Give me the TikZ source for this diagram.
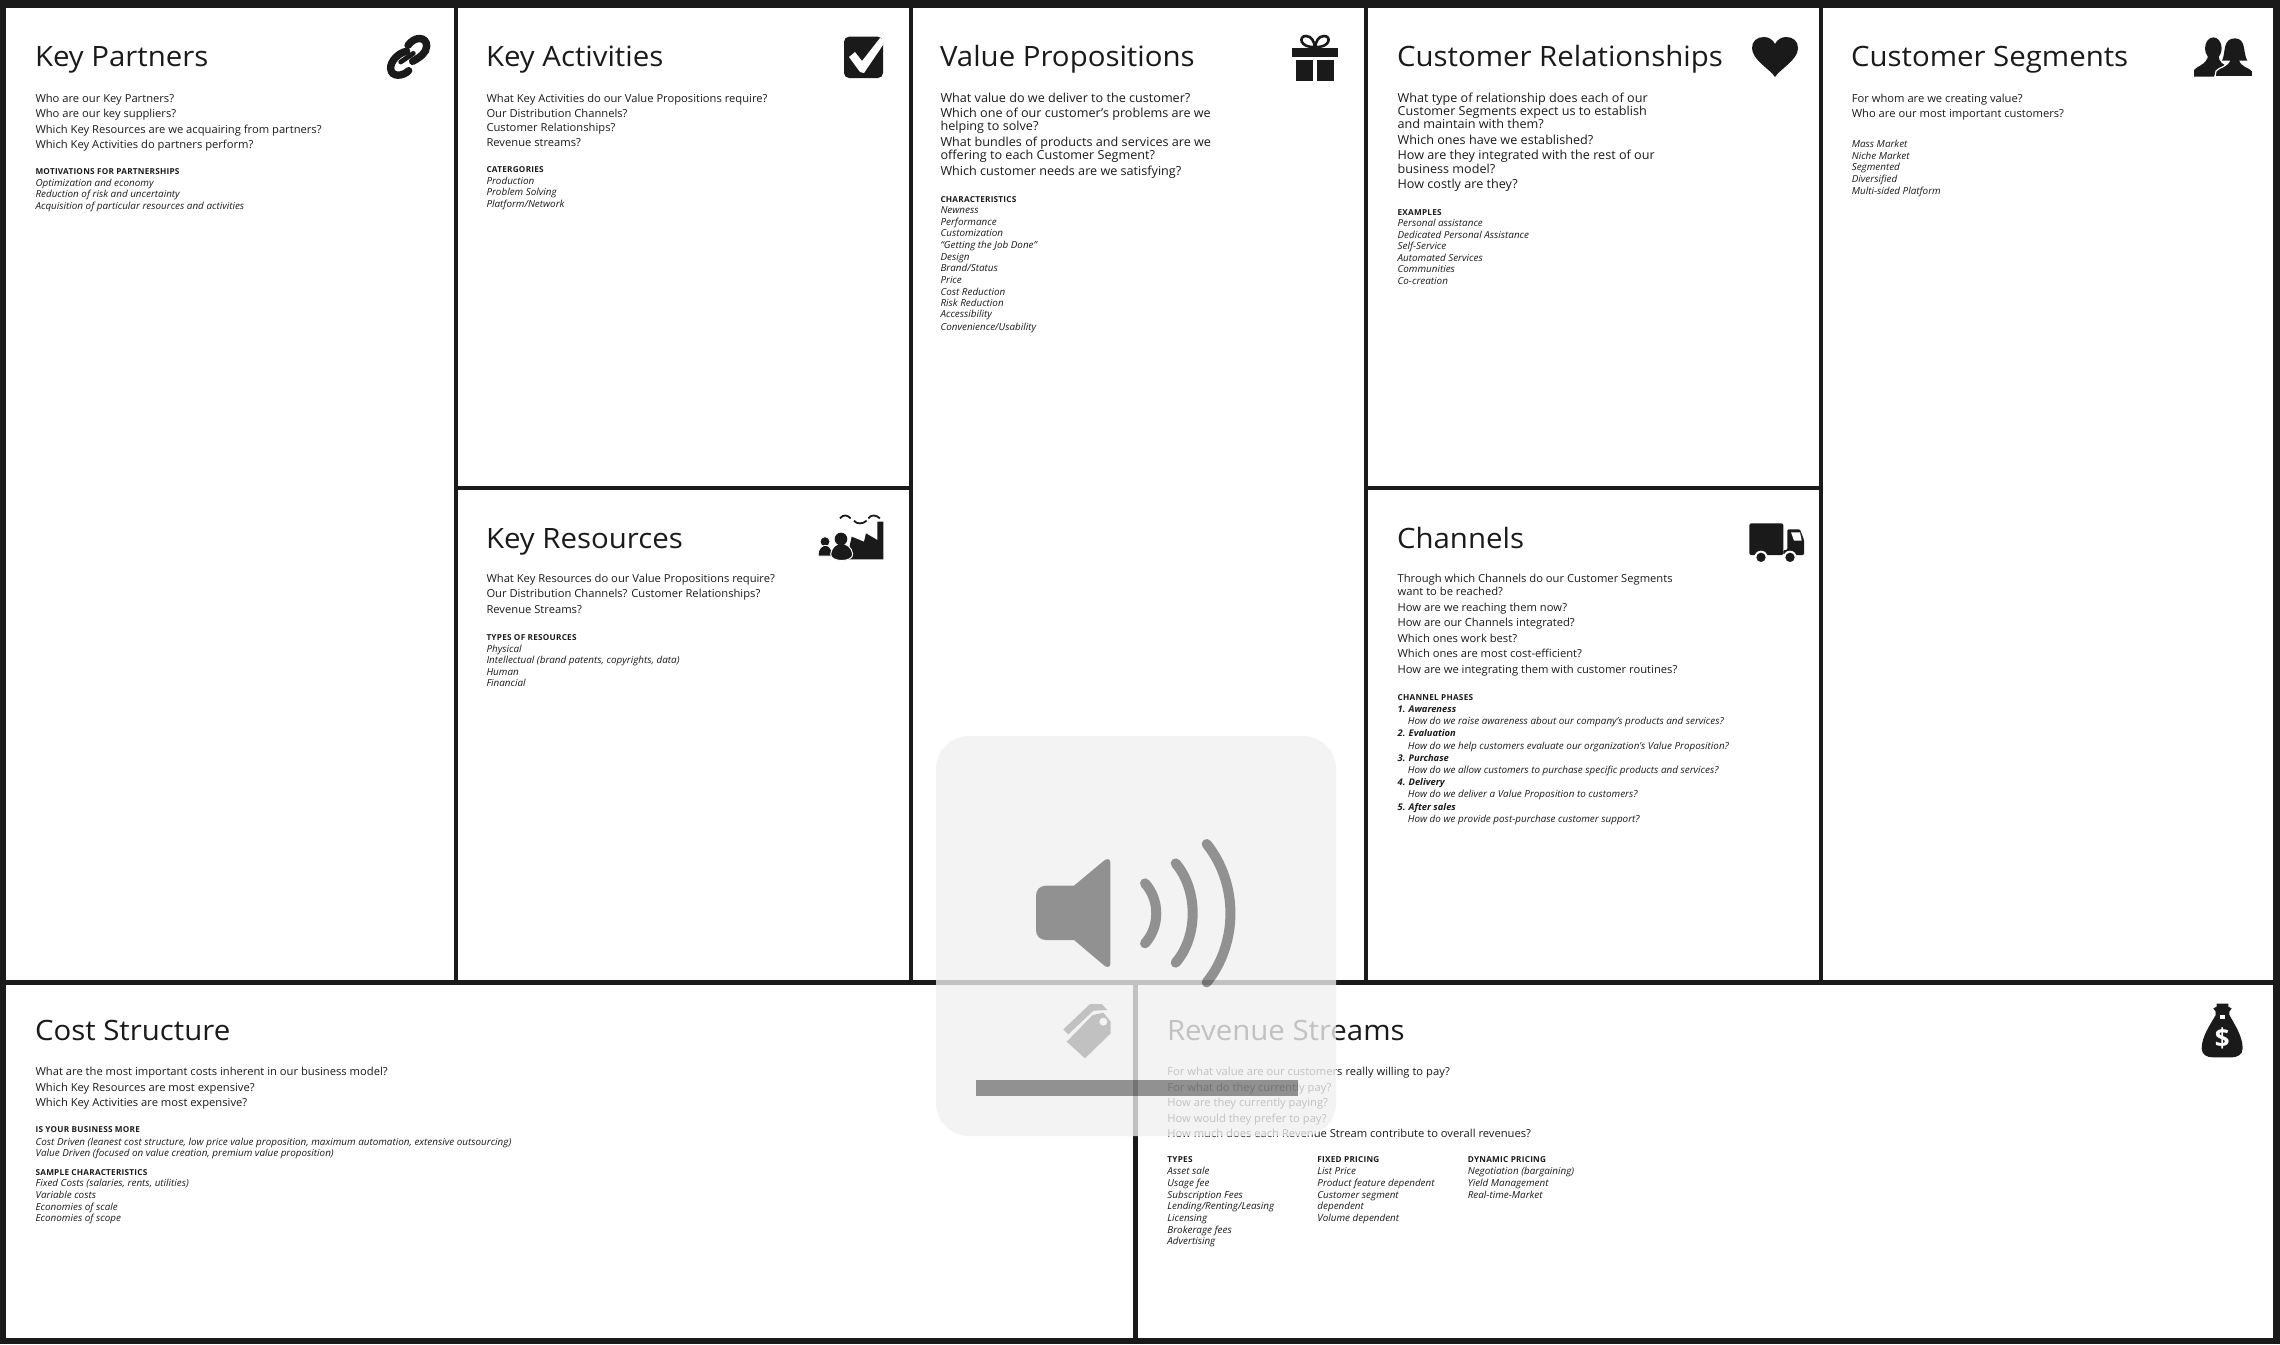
\documentclass[tikz,border=0pt]{standalone}
\usepackage{fontspec}
\setmainfont{Open Sans}
\newfontfamily\titlef[FakeStretch=1.05]{Open Sans}
\newfontfamily\bodyf[FakeStretch=1.018]{Open Sans}
\newfontfamily\headf[LetterSpace=3]{Open Sans}
\definecolor{ink}{HTML}{1A1A1A}
\newcommand\T[5]{\node[#2] (#1) at (#3,#4) {#5};}
\tikzset{
  lbl/.style={anchor=base west,inner sep=0pt,outer sep=0pt,text=ink},
  ttl/.style={lbl,font=\titlef\fontsize{14}{16}\selectfont},
  q/.style={lbl,font=\bodyf\fontsize{5.5}{6}\selectfont},
  qb/.style={lbl,font=\bodyf\fontsize{6.2}{7}\selectfont},
  hd/.style={lbl,font=\headf\bfseries\fontsize{4.1}{5}\selectfont},
  it/.style={lbl,font=\bodyf\itshape\fontsize{4.85}{5.5}\selectfont},
  itb/.style={lbl,font=\bodyf\bfseries\itshape\fontsize{4.6}{5.5}\selectfont},
  zm/.style 2 args={shift={(#1,#2)},x=0.16667pt,y=-0.16667pt},
}
\begin{document}
\begin{tikzpicture}[x=0.5pt,y=-0.5pt]
\useasboundingbox (0,0) rectangle (2280,1344);
\fill[ink] (0,0) rectangle (2280,1344);
% cells
\fill[white] (6,8) rectangle (453.7,980);
\fill[white] (458,8) rectangle (909,486);
\fill[white] (458,490) rectangle (909,980);
\fill[white] (913,8) rectangle (1363.6,980);
\fill[white] (1367.7,8) rectangle (1819,486);
\fill[white] (1367.7,490) rectangle (1819,980);
\fill[white] (1823,8) rectangle (2273,980);
\fill[white] (6,984.5) rectangle (1133,1338);
\fill[white] (1137.5,984.5) rectangle (2273,1338);
% Key Partners
\T{kpt}{ttl}{35}{66}{Key Partners}
\T{kp1}{q}{35.5}{102}{Who are our Key Partners?}
\T{kp2}{q}{35.5}{117}{Who are our key suppliers?}
\T{kp3}{q}{35.5}{133}{Which Key Resources are we acquairing from partners?}
\T{kp4}{q}{35.5}{148}{Which Key Activities do partners perform?}
\T{kph}{hd}{35.5}{174}{MOTIVATIONS FOR PARTNERSHIPS}
\T{kpa}{it}{35.5}{186}{Optimization and economy}
\T{kpb}{it}{35.5}{197.7}{Reduction of risk and uncertainty}
\T{kpc}{it}{35.5}{209}{Acquisition of particular resources and activities}
% Key Activities
\T{kat}{ttl}{486}{66}{Key Activities}
\T{ka1}{q}{486.5}{102}{What Key Activities do our Value Propositions require?}
\T{ka2}{q}{486.5}{117}{Our Distribution Channels?}
\T{ka3}{q}{486.5}{131}{Customer Relationships?}
\T{ka4}{q}{486.5}{146}{Revenue streams?}
\T{kah}{hd}{486.5}{172}{CATERGORIES}
\T{kaa}{it}{486.5}{184}{Production}
\T{kab}{it}{486.5}{195}{Problem Solving}
\T{kac}{it}{486.5}{207}{Platform/Network}
% Key Resources
\T{krt}{ttl}{486}{548}{Key Resources}
\T{kr1}{q}{486.5}{582.5}{What Key Resources do our Value Propositions require?}
\T{kr2}{q}{486.5}{597.5}{Our Distribution Channels? Customer Relationships?}
\T{kr3}{q}{486.5}{613}{Revenue Streams?}
\T{krh}{hd}{486.5}{640}{TYPES OF RESOURCES}
\T{kra}{it}{486.5}{652}{Physical}
\T{krb}{it}{486.5}{663.5}{Intellectual (brand patents, copyrights, data)}
\T{krc}{it}{486.5}{675}{Human}
\T{krd}{it}{486.5}{686}{Financial}
% Value Propositions
\T{vpt}{ttl}{940}{66}{Value Propositions}
\T{vp1}{qb}{940.5}{102}{What value do we deliver to the customer?}
\T{vp2}{qb}{940.5}{117}{Which one of our customer’s problems are we}
\T{vp3}{qb}{940.5}{130}{helping to solve?}
\T{vp4}{qb}{940.5}{146.5}{What bundles of products and services are we}
\T{vp5}{qb}{940.5}{159}{offering to each Customer Segment?}
\T{vp6}{qb}{940.5}{175}{Which customer needs are we satisfying?}
\T{vph}{hd}{940.5}{202}{CHARACTERISTICS}
\T{vpa}{it}{940.5}{213.7}{Newness}
\T{vpb}{it}{940.5}{225}{Performance}
\T{vpc}{it}{940.5}{236.7}{Customization}
\T{vpd}{it}{940.5}{248}{“Getting the Job Done”}
\T{vpe}{it}{940.5}{260}{Design}
\T{vpf}{it}{940.5}{271.7}{Brand/Status}
\T{vpg}{it}{940.5}{283}{Price}
\T{vpi}{it}{940.5}{295}{Cost Reduction}
\T{vpj}{it}{940.5}{306}{Risk Reduction}
\T{vpk}{it}{940.5}{317.7}{Accessibility}
\T{vpl}{it}{940.5}{330}{Convenience/Usability}
% Customer Relationships
\T{crt}{ttl}{1397}{66}{Customer Relationships}
\T{cr1}{qb}{1397.6}{102}{What type of relationship does each of our}
\T{cr2}{qb}{1397.6}{115}{Customer Segments expect us to establish}
\T{cr3}{qb}{1397.6}{128}{and maintain with them?}
\T{cr4}{qb}{1397.6}{144}{Which ones have we established?}
\T{cr5}{qb}{1397.6}{159}{How are they integrated with the rest of our}
\T{cr6}{qb}{1397.6}{173}{business model?}
\T{cr7}{qb}{1397.6}{188}{How costly are they?}
\T{crh}{hd}{1397.6}{215}{EXAMPLES}
\T{cra}{it}{1397.6}{226.7}{Personal assistance}
\T{crb}{it}{1397.6}{238.7}{Dedicated Personal Assistance}
\T{crc}{it}{1397.6}{249.7}{Self-Service}
\T{crd}{it}{1397.6}{261.7}{Automated Services}
\T{cre}{it}{1397.6}{272.7}{Communities}
\T{crf}{it}{1397.6}{284.7}{Co-creation}
% Customer Segments
\T{cst}{ttl}{1851}{66}{Customer Segments}
\T{cs1}{q}{1851.8}{102}{For whom are we creating value?}
\T{cs2}{q}{1851.8}{117}{Who are our most important customers?}
\T{csa}{it}{1851.8}{147.7}{Mass Market}
\T{csb}{it}{1851.8}{159.7}{Niche Market}
\T{csc}{it}{1851.8}{170.7}{Segmented}
\T{csd}{it}{1851.8}{182.7}{Diversified}
\T{cse}{it}{1851.8}{194.7}{Multi-sided Platform}
% Channels
\T{cht}{ttl}{1397}{548}{Channels}
\T{ch1}{q}{1397.6}{582.7}{Through which Channels do our Customer Segments}
\T{ch2}{q}{1397.6}{595.7}{want to be reached?}
\T{ch3}{q}{1397.6}{611.7}{How are we reaching them now?}
\T{ch4}{q}{1397.6}{626.7}{How are our Channels integrated?}
\T{ch5}{q}{1397.6}{642.7}{Which ones work best?}
\T{ch6}{q}{1397.6}{657.7}{Which ones are most cost-efficient?}
\T{ch7}{q}{1397.6}{673.7}{How are we integrating them with customer routines?}
\T{chh}{hd}{1397.6}{700}{CHANNEL PHASES}
\T{cha}{itb}{1397.6}{712}{1. Awareness}
\T{chb}{it}{1407.8}{724}{How do we raise awareness about our company’s products and services?}
\T{chc}{itb}{1397.6}{736}{2. Evaluation}
\T{chd}{it}{1407.8}{749}{How do we help customers evaluate our organization’s Value Proposition?}
\T{che}{itb}{1397.6}{761}{3. Purchase}
\T{chf}{it}{1407.8}{773}{How do we allow customers to purchase specific products and services?}
\T{chg}{itb}{1397.6}{785}{4. Delivery}
\T{chi}{it}{1407.8}{797.7}{How do we deliver a Value Proposition to customers?}
\T{chj}{itb}{1397.6}{810}{5. After sales}
\T{chk}{it}{1407.8}{822}{How do we provide post-purchase customer support?}
% Cost Structure
\T{cot}{ttl}{35}{1040}{Cost Structure}
\T{co1}{q}{35.6}{1075.7}{What are the most important costs inherent in our business model?}
\T{co2}{q}{35.6}{1091.7}{Which Key Resources are most expensive?}
\T{co3}{q}{35.6}{1106.7}{Which Key Activities are most expensive?}
\T{coh}{hd}{35.6}{1132.7}{IS YOUR BUSINESS MORE}
\T{coa}{it}{35.6}{1145}{Cost Driven (leanest cost structure, low price value proposition, maximum automation, extensive outsourcing)}
\T{cob}{it}{35.6}{1156}{Value Driven (focused on value creation, premium value proposition)}
\T{cog}{hd}{35.6}{1175}{SAMPLE CHARACTERISTICS}
\T{coc}{it}{35.6}{1186}{Fixed Costs (salaries, rents, utilities)}
\T{cod}{it}{35.6}{1198}{Variable costs}
\T{coe}{it}{35.6}{1210}{Economies of scale}
\T{cof}{it}{35.6}{1221}{Economies of scope}
% Revenue Streams
\T{rst}{ttl}{1167}{1040}{Revenue Streams}
\T{rs1}{q}{1167.4}{1075.7}{For what value are our customers really willing to pay?}
\T{rs2}{q}{1167.4}{1091.7}{For what do they currently pay?}
\T{rs3}{q}{1167.4}{1106.7}{How are they currently paying?}
\T{rs4}{q}{1167.4}{1122.7}{How would they prefer to pay?}
\T{rs5}{q}{1167.4}{1137.7}{How much does each Revenue Stream contribute to overall revenues?}
\T{rh1}{hd}{1167.4}{1162.7}{TYPES}
\T{ra1}{it}{1167.4}{1174}{Asset sale}
\T{ra2}{it}{1167.4}{1186}{Usage fee}
\T{ra3}{it}{1167.4}{1198}{Subscription Fees}
\T{ra4}{it}{1167.4}{1209}{Lending/Renting/Leasing}
\T{ra5}{it}{1167.4}{1221}{Licensing}
\T{ra6}{it}{1167.4}{1233}{Brokerage fees}
\T{ra7}{it}{1167.4}{1244}{Advertising}
\T{rh2}{hd}{1317.4}{1162.7}{FIXED PRICING}
\T{rb1}{it}{1317.4}{1174}{List Price}
\T{rb2}{it}{1317.4}{1186}{Product feature dependent}
\T{rb3}{it}{1317.4}{1198}{Customer segment}
\T{rb4}{it}{1317.4}{1209}{dependent}
\T{rb5}{it}{1317.4}{1221}{Volume dependent}
\T{rh3}{hd}{1467.8}{1162.7}{DYNAMIC PRICING}
\T{rc1}{it}{1467.8}{1174}{Negotiation (bargaining)}
\T{rc2}{it}{1467.8}{1186}{Yield Management}
\T{rc3}{it}{1467.8}{1198}{Real-time-Market}
% ---- icons
% link
\begin{scope}[zm={370}{20}]
\draw[ink,line width=3.7pt,line cap=round] (114,76) .. controls (135,47) and (170,50) .. (170,78) .. controls (170,98) and (150,112) .. (128,124);
\draw[ink,line width=3.7pt,line cap=round] (110,94) .. controls (85,98) and (60,125) .. (62,146) .. controls (64,172) and (98,170) .. (116,152);
\draw[ink,line width=2.4pt,line cap=round] (92,126) -- (130,100);
\end{scope}
% check box
\fill[ink,rounded corners=2.5pt] (844,36.7) rectangle (883,78);
\fill[white] (849,57) -- (855,52) -- (862,61) -- (880,38) -- (883,39) -- (883,45) -- (864,73) -- (860,72) -- cycle;
% gift
\fill[ink] (1292,48) -- (1338,48) -- (1338,57) -- (1292,57) -- cycle;
\fill[ink] (1296,60) rectangle (1312.8,80.7);
\fill[ink] (1317,60) rectangle (1334,80.7);
\draw[ink,line width=1.3pt] (1315,47) .. controls (1300,48) and (1298,36) .. (1306,36) .. controls (1312,36) and (1314,42) .. (1315,47) .. controls (1316,42) and (1318,36) .. (1324,36) .. controls (1332,36) and (1330,48) .. (1315,47);
% heart
\fill[ink] (1775,77) .. controls (1770,69) and (1752,60) .. (1752,48) .. controls (1752,41) and (1757,37) .. (1764,37) .. controls (1769,37) and (1773,40) .. (1775,44) .. controls (1777,40) and (1781,37) .. (1786,37) .. controls (1793,37) and (1798,41) .. (1798,48) .. controls (1798,60) and (1780,69) .. (1775,77) -- cycle;
% people
\begin{scope}[zm={2180}{20}]
\fill[ink] (100,85) ellipse [x radius=25,y radius=33];
\fill[ink] (42,170) -- (42,150) .. controls (50,138) and (80,135) .. (85,105) -- (115,105) .. controls (118,130) and (130,132) .. (140,138) -- (110,150) -- (102,170) -- cycle;
\fill[ink,draw=white,line width=.6pt] (105,170) -- (108,153) .. controls (118,140) and (145,142) .. (150,115) -- (178,115) .. controls (182,142) and (210,140) .. (218,153) -- (218,170) -- cycle;
\fill[ink] (126,122) .. controls (138,100) and (126,55) .. (165,55) .. controls (200,56) and (188,100) .. (202,122) -- cycle;
\end{scope}
% factory
\begin{scope}[zm={790}{490}]
\draw[ink,line width=.9pt] (150,85) .. controls (160,72) and (172,75) .. (182,85);
\draw[ink,line width=.9pt] (192,92) .. controls (200,103) and (218,103) .. (230,92);
\draw[ink,line width=.9pt] (235,85) .. controls (245,72) and (258,75) .. (270,85);
\fill[ink] (170,208) -- (185,140) -- (222,155) -- (228,130) -- (262,150) -- (262,95) -- (280,95) -- (280,208) -- cycle;
\fill[ink,draw=white,line width=.4pt] (105,155) circle (15);
\fill[ink,draw=white,line width=.4pt] (85,198) .. controls (82,175) and (98,166) .. (106,166) .. controls (116,166) and (128,175) .. (126,198) -- cycle;
\fill[ink,draw=white,line width=.5pt] (122,192) .. controls (124,172) and (140,160) .. (153,160) .. controls (168,160) and (186,172) .. (188,192) .. controls (190,218) and (120,218) .. (122,192) -- cycle;
\fill[ink,draw=none] (153,147) circle (19);
\end{scope}
% truck
\begin{scope}[zm={1720}{500}]
\fill[ink,rounded corners=1pt] (88,165) -- (88,70) -- (190,70) -- (190,165) -- cycle;
\fill[ink,rounded corners=.6pt] (190,150) -- (202,150) -- (202,88) -- (240,88) -- (252,120) -- (252,165) -- (190,165) -- cycle;
\fill[white] (213,97) -- (240,97) -- (245,122) -- (222,122) -- cycle;
\fill[white] (123,172) circle (20);
\fill[white] (210,172) circle (20);
\fill[ink] (123,172) circle (14);
\fill[ink] (210,172) circle (14);
\end{scope}
% money bag
\begin{scope}[zm={2120}{960}]
\fill[ink] (290,131) -- (325,131) -- (325,140) -- (335,145) -- (328,155) -- (328,165) .. controls (345,195) and (368,230) .. (368,265) .. controls (368,285) and (350,292) .. (335,292) -- (278,292) .. controls (262,292) and (245,285) .. (245,265) .. controls (245,230) and (270,195) .. (287,165) -- (287,155) -- (280,145) -- (290,140) -- cycle;
\fill[white] (300,166) rectangle (315,177);
\node[text=white,inner sep=0pt,font=\bfseries\fontsize{13}{14}\selectfont] (dollar) at (307,236) {\$};
\end{scope}
% tag icon (under the overlay)
\begin{scope}[zm={900}{720}]
\fill[ink] (490,928) -- (570,852) -- (605,852) -- (622,870) -- (580,872) -- (505,943) -- cycle;
\fill[ink] (500,965) -- (578,885) -- (610,878) -- (632,905) -- (632,940) -- (555,1015) -- cycle;
\fill[white] (610,905) circle (12);
\end{scope}
% overlay
\fill[fill=black!6,opacity=.78,rounded corners=16.5pt] (936,736) rectangle (1336,1136);
% speaker
\begin{scope}[zm={900}{720}]
\fill[black,opacity=.4] (438,497) -- (522,497) -- (612,422) .. controls (620,415) and (631,415) .. (631,428) -- (631,730) .. controls (631,743) and (620,743) .. (612,736) -- (522,660) -- (438,660) .. controls (420,660) and (408,648) .. (408,630) -- (408,527) .. controls (408,509) and (420,497) .. (438,497) -- cycle;
\draw[black,opacity=.4,line width=5pt,line cap=round] (735,490) .. controls (780,540) and (780,620) .. (735,670);
\draw[black,opacity=.4,line width=5pt,line cap=round] (827,430) .. controls (895,510) and (895,650) .. (827,728);
\draw[black,opacity=.4,line width=5pt,line cap=round] (920,372) .. controls (1015,490) and (1015,670) .. (920,787);
\end{scope}
% progress bar
\fill[black,opacity=.4] (976,1080) rectangle (1298,1096);
\end{tikzpicture}
\end{document}
